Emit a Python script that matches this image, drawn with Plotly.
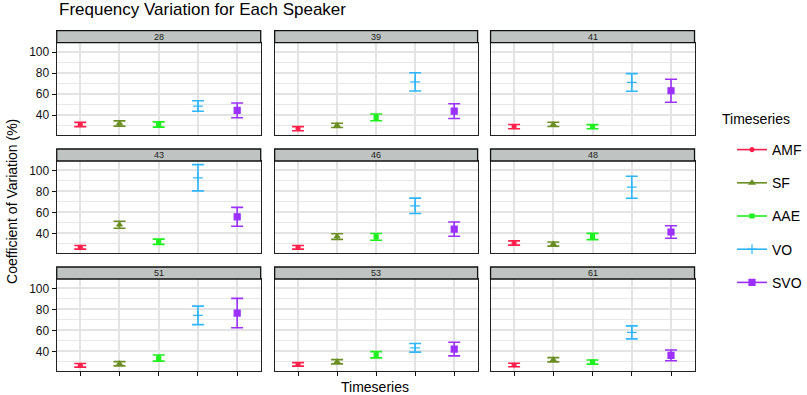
import plotly.graph_objects as go

W, H = 807, 395

speakers = ["28", "39", "41", "43", "46", "48", "51", "53", "61"]
series = ["AMF", "SF", "AAE", "VO", "SVO"]

amf_mean = [31.0, 27.0, 29.0, 26.7, 26.7, 30.8, 26.7, 27.6, 27.0]
amf_err = [2.0, 2.0, 2.0, 1.7, 1.7, 2.0, 1.7, 1.7, 1.7]
sf_mean = [32.0, 30.2, 31.1, 48.2, 37.0, 29.8, 28.2, 30.1, 32.0]
sf_err = [2.5, 2.0, 2.0, 3.3, 2.7, 2.0, 2.0, 2.0, 2.0]
aae_mean = [31.0, 37.8, 28.9, 32.0, 36.7, 37.0, 33.6, 36.8, 29.8]
aae_err = [2.5, 3.2, 2.0, 2.5, 3.2, 3.0, 2.9, 3.0, 2.0]
vo_mean = [48.6, 71.7, 71.1, 93.0, 66.3, 84.0, 74.3, 43.4, 58.1]
vo_err = [5.0, 8.7, 8.4, 12.5, 7.3, 10.5, 8.8, 4.1, 6.2]
svo_mean = [44.5, 43.8, 63.2, 55.8, 44.1, 41.3, 76.5, 42.2, 36.2]
svo_err = [7.0, 7.0, 11.0, 9.0, 6.8, 6.0, 14.0, 6.5, 5.1]

y_ticks = [40, 60, 80, 100]
y_minor = [30, 50, 70, 90]

means = [amf_mean, sf_mean, aae_mean, vo_mean, svo_mean]
errs = [amf_err, sf_err, aae_err, vo_err, svo_err]
colors = ["#FF1F4B", "#6B8E23", "#1EF01E", "#2FB6FF", "#9B30FF"]
symbols = ["circle", "triangle-up", "square", "cross-thin", "square"]
msizes = [4, 5, 4, 7, 6]

FONT = "Liberation Sans, Arial, Helvetica, sans-serif"

cols_px = [(57, 262), (276, 480), (493, 698)]
rows_px = [(42.7, 135.0), (161.0, 253.3), (279.0, 371.3)]
STRIP = 12

fig = go.Figure()
layout = {}
shapes = []
annotations = []

for i, spk in enumerate(speakers):
    r, c = divmod(i, 3)
    k = i + 1
    xa = "x" if k == 1 else f"x{k}"
    ya = "y" if k == 1 else f"y{k}"
    xl = "xaxis" if k == 1 else f"xaxis{k}"
    yl = "yaxis" if k == 1 else f"yaxis{k}"
    x0, x1 = cols_px[c]
    top, bot = rows_px[r]
    layout[xl] = dict(
        domain=[x0 / W, x1 / W], anchor=ya, type="category",
        categoryorder="array", categoryarray=series,
        range=[-0.6, 4.6], showticklabels=False,
        ticks="outside" if r == 2 else "", ticklen=4, tickwidth=1.3, tickcolor="#111",
        showgrid=True, gridcolor="#E3E3E3", gridwidth=2,
        showline=True, linecolor="#222", linewidth=1.3, mirror=True, zeroline=False,
    )
    layout[yl] = dict(
        domain=[1 - bot / H, 1 - top / H], anchor=xa, range=[21, 109],
        tickmode="array", tickvals=y_ticks, showticklabels=(c == 0),
        ticks="outside" if c == 0 else "", ticklen=4, tickwidth=1.3, tickcolor="#111",
        tickfont=dict(size=12, color="#111", family=FONT),
        showgrid=True, gridcolor="#E3E3E3", gridwidth=2,
        minor=dict(tickvals=y_minor, showgrid=True, gridcolor="#E8E8E8", gridwidth=1, ticks=""),
        showline=True, linecolor="#222", linewidth=1.3, mirror=True, zeroline=False,
    )
    shapes.append(dict(type="rect", xref="paper", yref="paper",
                       x0=x0 / W, x1=x1 / W, y0=1 - top / H, y1=1 - (top - STRIP) / H,
                       fillcolor="#BFC4C2", line=dict(color="#111", width=1.3), layer="above"))
    annotations.append(dict(text=spk, xref="paper", yref="paper",
                            x=(x0 + x1) / 2 / W, y=1 - (top - STRIP / 2) / H,
                            xanchor="center", yanchor="middle", showarrow=False,
                            font=dict(size=9, color="#1A1A1A", family=FONT)))
    for s, name in enumerate(series):
        fig.add_trace(go.Scatter(
            x=[name], y=[means[s][i]], xaxis=xa, yaxis=ya, mode="markers",
            marker=dict(symbol=symbols[s], size=msizes[s], color=colors[s],
                        line=dict(color=colors[s], width=1.2)),
            error_y=dict(type="data", array=[errs[s][i]], symmetric=True,
                         color=colors[s], thickness=1.6, width=6),
            showlegend=False, hoverinfo="skip",
        ))

for s, name in enumerate(series):
    fig.add_trace(go.Scatter(
        x=[None], y=[None], mode="lines+markers", name=name, legendgroup=name,
        line=dict(color=colors[s], width=1.6),
        marker=dict(symbol=symbols[s], size=msizes[s], color=colors[s],
                    line=dict(color=colors[s], width=1.2)),
    ))

annotations.append(dict(text="Frequency Variation for Each Speaker", xref="paper", yref="paper",
                        x=57 / W, y=1 - 9 / H, xanchor="left", yanchor="middle", showarrow=False,
                        font=dict(size=17, color="#000", family=FONT)))
annotations.append(dict(text="Coefficient of Variation (%)", xref="paper", yref="paper",
                        x=12 / W, y=1 - 201 / H, xanchor="center", yanchor="middle", showarrow=False,
                        textangle=-90, font=dict(size=14, color="#000", family=FONT)))
annotations.append(dict(text="Timeseries", xref="paper", yref="paper",
                        x=377 / W, y=1 - 387 / H, xanchor="center", yanchor="middle", showarrow=False,
                        font=dict(size=14, color="#000", family=FONT)))
annotations.append(dict(text="Timeseries", xref="paper", yref="paper",
                        x=724 / W, y=1 - 119 / H, xanchor="left", yanchor="middle", showarrow=False,
                        font=dict(size=14, color="#000", family=FONT)))

fig.update_layout(
    width=W, height=H, margin=dict(l=0, r=0, t=0, b=0),
    paper_bgcolor="white", plot_bgcolor="white",
    font=dict(family=FONT, color="#000"),
    shapes=shapes, annotations=annotations,
    legend=dict(x=736 / W, y=1 - 134 / H, xanchor="left", yanchor="top",
                font=dict(size=14), tracegroupgap=12, bgcolor="rgba(0,0,0,0)"),
    **layout,
)

fig.write_html("out.html")
